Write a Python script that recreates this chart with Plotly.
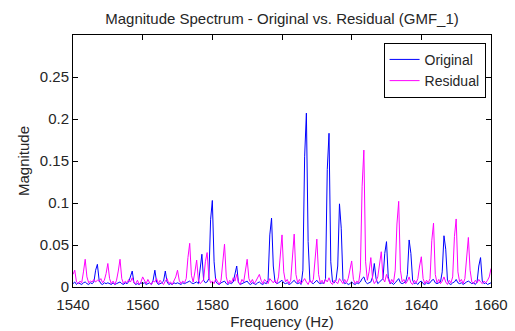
import numpy as np
import plotly.graph_objects as go

# Frequency axis: 1540 .. 1660 Hz at 0.5 Hz resolution
freq = np.arange(1540, 1660.01, 0.5)

original = [
    0.004,0.006,0.003,0.005,0.004,0.003,0.005,0.006,0.004,0.003,0.005,0.004,0.006,0.020,0.027,0.008,0.004,0.003,0.005,0.004,
    0.005,0.004,0.003,0.005,0.003,0.004,0.005,0.006,0.004,0.003,0.005,0.004,0.006,0.014,0.019,0.005,0.003,0.004,0.003,0.005,
    0.004,0.005,0.003,0.004,0.005,0.003,0.008,0.020,0.006,0.003,0.004,0.005,0.007,0.019,0.006,0.003,0.004,0.003,0.005,0.004,
    0.005,0.004,0.003,0.005,0.004,0.005,0.006,0.007,0.005,0.004,0.005,0.006,0.004,0.025,0.039,0.008,0.005,0.006,0.010,0.080,
    0.103,0.030,0.006,0.004,0.003,0.005,0.006,0.007,0.004,0.003,0.005,0.004,0.006,0.015,0.025,0.005,0.003,0.004,0.005,0.006,
    0.007,0.004,0.003,0.005,0.004,0.003,0.005,0.006,0.004,0.003,0.005,0.004,0.008,0.062,0.082,0.025,0.006,0.004,0.005,0.007,
    0.008,0.005,0.004,0.005,0.003,0.004,0.006,0.008,0.005,0.004,0.005,0.003,0.020,0.155,0.207,0.054,0.008,0.005,0.004,0.006,
    0.008,0.005,0.004,0.005,0.004,0.010,0.140,0.183,0.030,0.006,0.005,0.008,0.025,0.099,0.070,0.008,0.004,0.005,0.003,0.004,
    0.006,0.004,0.003,0.005,0.004,0.006,0.010,0.012,0.006,0.004,0.005,0.006,0.012,0.028,0.010,0.004,0.006,0.008,0.010,0.040,
    0.054,0.012,0.004,0.005,0.003,0.005,0.008,0.010,0.005,0.004,0.005,0.006,0.015,0.056,0.040,0.008,0.004,0.005,0.003,0.006,
    0.007,0.004,0.003,0.005,0.004,0.005,0.008,0.009,0.005,0.004,0.005,0.006,0.018,0.061,0.045,0.008,0.004,0.003,0.005,0.006,
    0.009,0.005,0.004,0.005,0.003,0.005,0.006,0.007,0.005,0.004,0.005,0.003,0.006,0.025,0.035,0.007,0.004,0.005,0.003,0.004,
    0.005,
]

residual = [
    0.015,0.020,0.006,0.004,0.007,0.005,0.018,0.033,0.012,0.005,0.007,0.006,0.009,0.006,0.008,0.007,0.010,0.005,0.008,0.016,
    0.028,0.010,0.004,0.007,0.003,0.008,0.019,0.033,0.010,0.004,0.007,0.005,0.009,0.006,0.011,0.005,0.004,0.008,0.003,0.006,
    0.012,0.007,0.004,0.009,0.005,0.003,0.007,0.006,0.010,0.004,0.008,0.005,0.003,0.007,0.010,0.004,0.006,0.003,0.008,0.012,
    0.020,0.008,0.004,0.007,0.005,0.010,0.035,0.052,0.014,0.006,0.018,0.032,0.008,0.004,0.006,0.009,0.030,0.041,0.012,0.005,
    0.007,0.004,0.010,0.006,0.003,0.008,0.030,0.051,0.012,0.004,0.008,0.005,0.011,0.007,0.015,0.006,0.003,0.009,0.006,0.020,
    0.033,0.010,0.005,0.009,0.004,0.007,0.011,0.015,0.008,0.004,0.009,0.006,0.004,0.010,0.007,0.005,0.008,0.004,0.012,0.040,
    0.062,0.018,0.006,0.009,0.004,0.008,0.040,0.063,0.015,0.005,0.009,0.004,0.007,0.010,0.006,0.003,0.008,0.005,0.009,0.035,
    0.057,0.015,0.005,0.008,0.004,0.009,0.006,0.011,0.005,0.003,0.008,0.006,0.004,0.010,0.007,0.004,0.009,0.005,0.010,0.020,
    0.031,0.009,0.004,0.007,0.005,0.020,0.120,0.163,0.030,0.008,0.018,0.035,0.010,0.004,0.007,0.012,0.030,0.042,0.010,0.006,
    0.015,0.008,0.004,0.009,0.005,0.020,0.075,0.102,0.020,0.006,0.009,0.004,0.007,0.012,0.005,0.003,0.008,0.005,0.010,0.025,
    0.036,0.010,0.004,0.008,0.005,0.010,0.055,0.076,0.015,0.005,0.009,0.004,0.007,0.012,0.006,0.003,0.008,0.005,0.012,0.060,
    0.081,0.018,0.006,0.009,0.004,0.010,0.040,0.059,0.020,0.006,0.004,0.008,0.005,0.009,0.006,0.004,0.007,0.005,0.008,0.012,
    0.022,
]

x_ticks = [1540, 1560, 1580, 1600, 1620, 1640, 1660]
y_ticks = [0, 0.05, 0.1, 0.15, 0.2, 0.25]
y_tick_labels = ["0", "0.05", "0.1", "0.15", "0.2", "0.25"]

FONT = "Liberation Sans, Arial, Helvetica, sans-serif"
TXT = "#262626"

fig = go.Figure()
fig.add_trace(go.Scatter(x=freq, y=original, mode="lines", name="Original",
                         line=dict(color="#0000FF", width=1)))
fig.add_trace(go.Scatter(x=freq, y=residual, mode="lines", name="Residual",
                         line=dict(color="#FF00FF", width=1)))

axis_common = dict(showgrid=False, zeroline=False, showline=True, linecolor="#000000",
                   linewidth=1, mirror="ticks", ticks="inside", ticklen=5,
                   tickcolor="#000000", tickfont=dict(family=FONT, size=15, color=TXT))

fig.update_xaxes(range=[1540, 1660], tickvals=x_ticks, ticklabelstandoff=4,
                 title=dict(text="Frequency (Hz)", font=dict(family=FONT, size=15, color=TXT), standoff=2),
                 **axis_common)
fig.update_yaxes(range=[0, 0.3], tickvals=y_ticks, ticktext=y_tick_labels,
                 title=dict(text="Magnitude", font=dict(family=FONT, size=15, color=TXT), standoff=6),
                 **axis_common)

fig.update_layout(
    width=515, height=331,
    margin=dict(l=73, r=24, t=35, b=44, autoexpand=False),
    paper_bgcolor="white", plot_bgcolor="white",
    title=dict(text="Magnitude Spectrum - Original vs. Residual (GMF_1)",
               font=dict(family=FONT, size=15, color=TXT),
               xref="paper", x=0.5, xanchor="center",
               yref="container", y=0.943, yanchor="middle"),
    legend=dict(x=0.987, xanchor="right", y=0.969, yanchor="top",
                bgcolor="white", bordercolor="#000000", borderwidth=1,
                font=dict(family=FONT, size=14, color=TXT),
                tracegroupgap=0, itemwidth=30),
    showlegend=True,
)

fig.write_html("out.html")
